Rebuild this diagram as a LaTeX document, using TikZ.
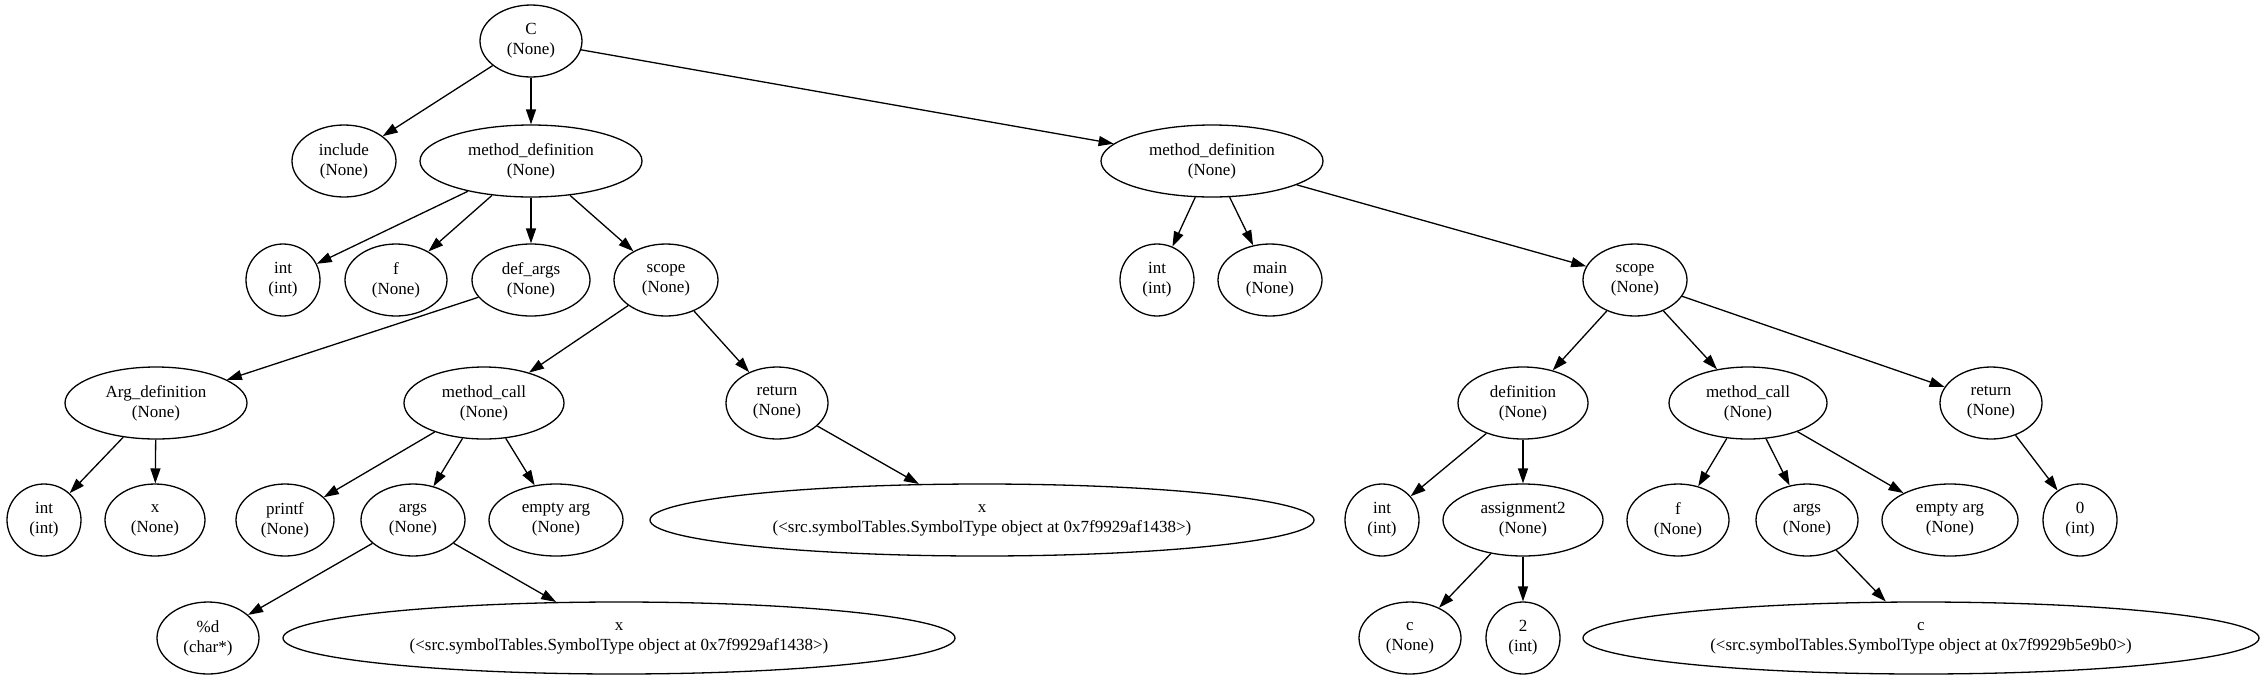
\documentclass[tikz,border=0pt]{standalone}
\usepackage{fontspec}
\setmainfont{Liberation Serif}
\usepackage{tikz}
\usetikzlibrary{shapes.geometric, arrows.meta}

\tikzset{
  astnode/.style={ellipse, draw, line width=1.3pt, inner sep=0pt, align=center,
    minimum height=72pt, font=\fontsize{17}{20}\selectfont},
  astedge/.style={line width=1.3pt, -{Triangle[length=15pt,width=10pt]}}
}

\begin{document}
\begin{tikzpicture}[x=1pt, y=-1pt]
        \useasboundingbox (0,0) rectangle (2265,681);
        % Nodes: name/x/y/half width/label
        \foreach \nm/\xx/\yy/\rx/\txt in {
            root/531/41/51/{C\\(None)},
            incl/344/161/52/{include\\(None)},
            mdl/531/161/111/{method\_definition\\(None)},
            mdr/1212/161/111/{method\_definition\\(None)},
            intA/283/280/37/{int\\(int)},
            fA/396/280/51/{f\\(None)},
            defargs/531/280/59/{def\_args\\(None)},
            scopeA/666/280/52/{scope\\(None)},
            intC/1157/280/37/{int\\(int)},
            mainf/1270/280/52/{main\\(None)},
            scopeB/1635/280/52/{scope\\(None)},
            argdef/156/403/91/{Arg\_definition\\(None)},
            mcallA/484/403/80/{method\_call\\(None)},
            retA/777/403/51/{return\\(None)},
            defn/1523/403/65/{definition\\(None)},
            mcallB/1748/403/79/{method\_call\\(None)},
            retB/1991/403/51/{return\\(None)},
            intB/44/520/37/{int\\(int)},
            xA/155/520/50/{x\\(None)},
            printf/285/520/49/{printf\\(None)},
            argsA/413/520/52/{args\\(None)},
            emptyA/556/520/67/{empty arg\\(None)},
            xC/982/520/332/{x\\(<src.symbolTables.SymbolType object at 0x7f9929af1438>)},
            intD/1382/520/37/{int\\(int)},
            asg/1523/520/80/{assignment2\\(None)},
            fB/1678/520/51/{f\\(None)},
            argsB/1807/520/51/{args\\(None)},
            emptyB/1950/520/68/{empty arg\\(None)},
            zero/2080/520/37/{0\\(int)},
            pctd/208/638/51/{\%d\\(char*)},
            xB/619/638/336/{x\\(<src.symbolTables.SymbolType object at 0x7f9929af1438>)},
            cA/1410/638/51/{c\\(None)},
            two/1523/638/37/{2\\(int)},
            cB/1921/638/338/{c\\(<src.symbolTables.SymbolType object at 0x7f9929b5e9b0>)}}
          \node[astnode, minimum width=2*\rx pt] (\nm) at (\xx,\yy) {\txt};
        % Edges
        \foreach \a/\b in {root/incl, root/mdl, root/mdr,
            mdl/intA, mdl/fA, mdl/defargs, mdl/scopeA,
            defargs/argdef, argdef/intB, argdef/xA,
            scopeA/mcallA, scopeA/retA,
            mcallA/printf, mcallA/argsA, mcallA/emptyA,
            argsA/pctd, argsA/xB, retA/xC,
            mdr/intC, mdr/mainf, mdr/scopeB,
            scopeB/defn, scopeB/mcallB, scopeB/retB,
            defn/intD, defn/asg, asg/cA, asg/two,
            mcallB/fB, mcallB/argsB, mcallB/emptyB,
            argsB/cB, retB/zero}
          \draw[astedge] (\a) -- (\b);
      \end{tikzpicture}
\end{document}
